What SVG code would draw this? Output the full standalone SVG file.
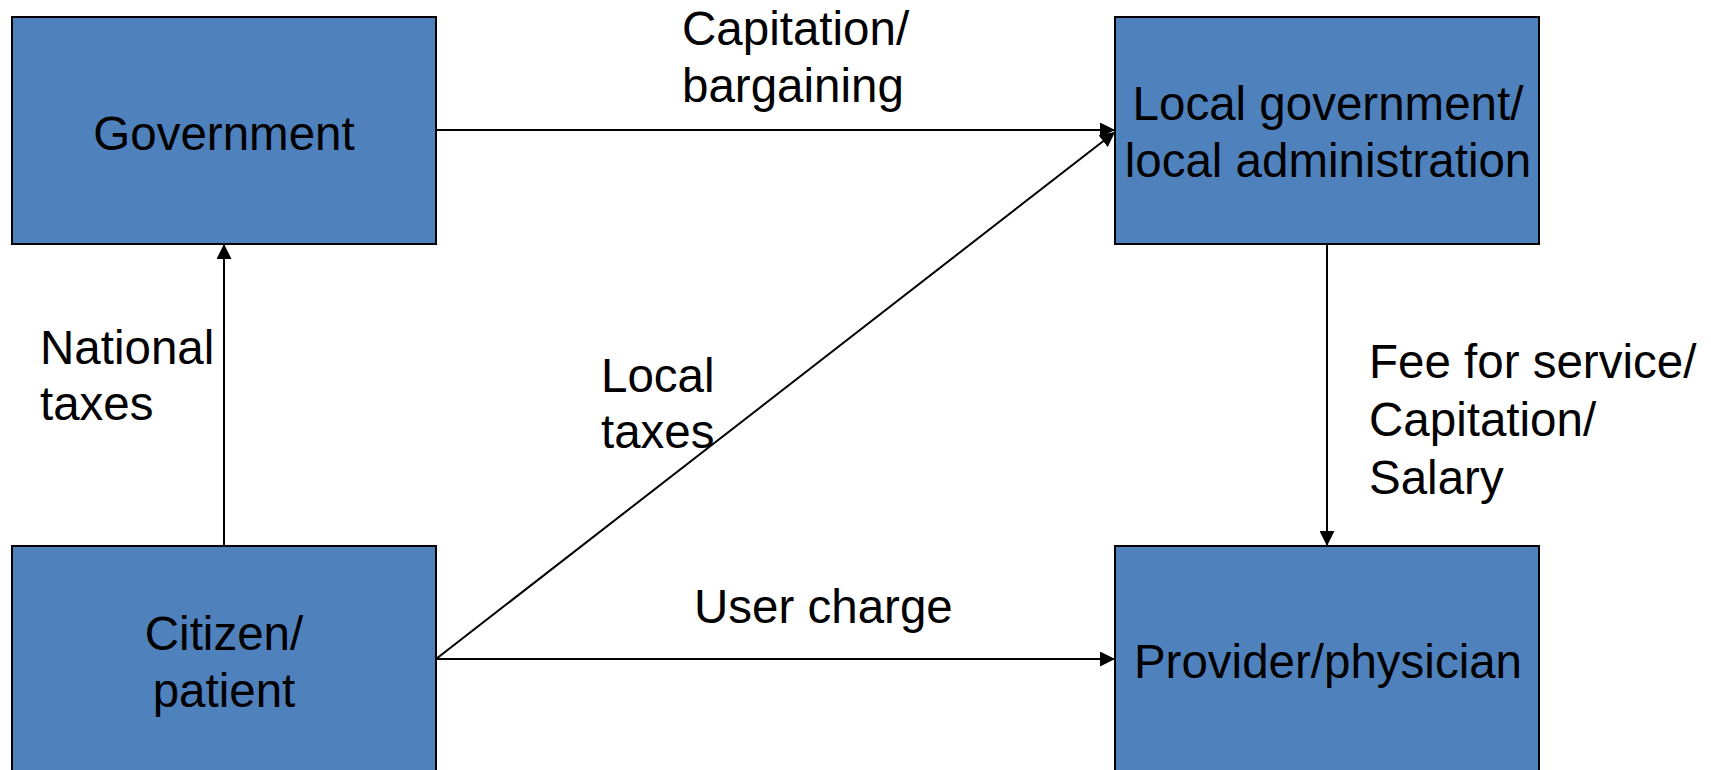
<svg xmlns="http://www.w3.org/2000/svg" width="1711" height="770" viewBox="0 0 1711 770">
  <style>
    .box { fill: #4f81bd; stroke: #000000; stroke-width: 2; }
    .lbl { font-family: "Liberation Sans", Arial, sans-serif; font-size: 47.5px; fill: #000000; }
    .mid { text-anchor: middle; }
    .edge { stroke: #000000; stroke-width: 2; fill: none; marker-end: url(#arrow); }
  </style>
  <defs>
    <marker id="arrow" markerUnits="userSpaceOnUse" markerWidth="15" markerHeight="15" refX="15" refY="7.5" orient="auto">
      <path d="M0,0 L15,7.5 L0,15 z" fill="#000000"/>
    </marker>
  </defs>
  <rect width="1711" height="770" fill="#ffffff"/>

  <!-- payment flows -->
  <g id="connectors">
    <line class="edge" x1="436" y1="130" x2="1115" y2="130"/>
    <line class="edge" x1="436" y1="659" x2="1115" y2="132"/>
    <line class="edge" x1="436" y1="659" x2="1115" y2="659"/>
    <line class="edge" x1="224" y1="546" x2="224" y2="244"/>
    <line class="edge" x1="1327" y1="244" x2="1327" y2="546"/>

    <text class="lbl"><tspan x="682" y="45">Capitation/</tspan><tspan x="682" y="102">bargaining</tspan></text>
    <text class="lbl"><tspan x="40" y="364">National</tspan><tspan x="40" y="420">taxes</tspan></text>
    <text class="lbl"><tspan x="601" y="392">Local</tspan><tspan x="601" y="448">taxes</tspan></text>
    <text class="lbl"><tspan x="1369" y="378">Fee for service/</tspan><tspan x="1369" y="436">Capitation/</tspan><tspan x="1369" y="494">Salary</tspan></text>
    <text class="lbl" x="694" y="623">User charge</text>
  </g>

  <g id="government">
    <rect class="box" x="12" y="17" width="424" height="227"/>
    <text class="lbl mid" x="224" y="150">Government</text>
  </g>

  <g id="local-government">
    <rect class="box" x="1115" y="17" width="424" height="227"/>
    <text class="lbl mid" x="1328" y="120">Local government/</text>
    <text class="lbl mid" x="1328" y="177">local administration</text>
  </g>

  <g id="citizen">
    <rect class="box" x="12" y="546" width="424" height="227"/>
    <text class="lbl mid" x="224" y="650">Citizen/</text>
    <text class="lbl mid" x="224" y="707">patient</text>
  </g>

  <g id="provider">
    <rect class="box" x="1115" y="546" width="424" height="227"/>
    <text class="lbl mid" x="1328" y="678">Provider/physician</text>
  </g>
</svg>
